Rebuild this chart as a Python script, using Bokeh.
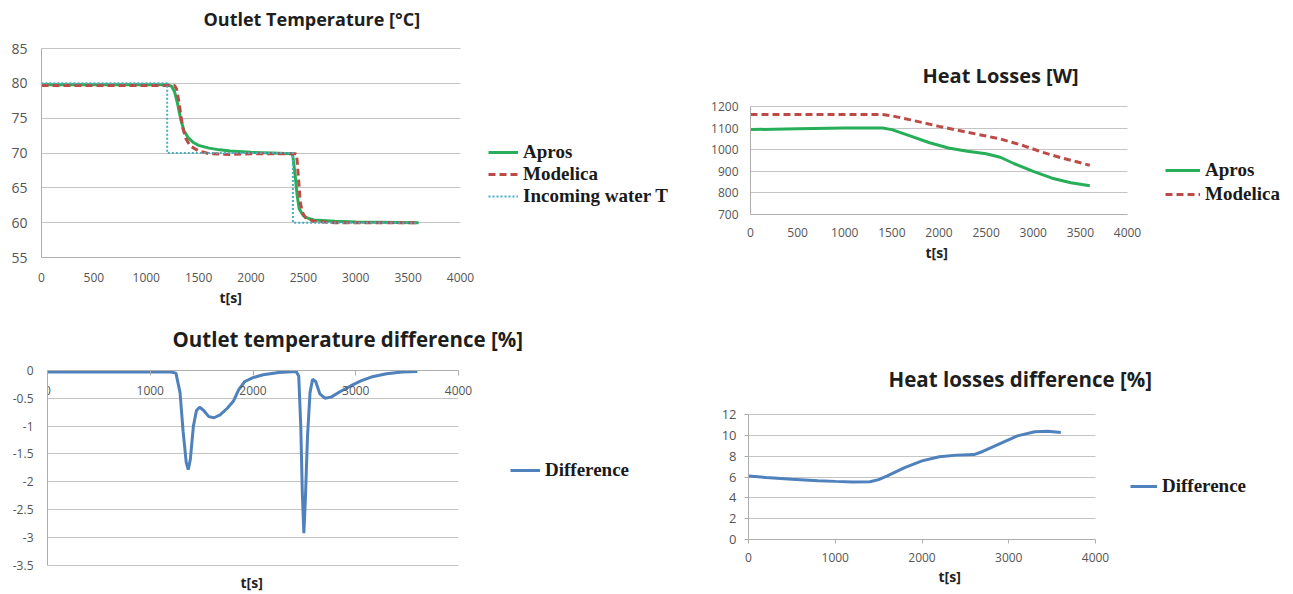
from bokeh.plotting import figure
from bokeh.models import (Range1d, Legend, LegendItem, Title, FixedTicker, Grid)
from bokeh.layouts import column, row
from bokeh.embed import file_html
from bokeh.resources import INLINE

# ---------------- data ----------------
# Panel 1: outlet temperature
t_apros_T = [0, 1200, 1240, 1270, 1300, 1330, 1360, 1400, 1450, 1500, 1600, 1700, 1800, 2000, 2200,
             2390, 2400, 2420, 2440, 2460, 2500, 2550, 2600, 2800, 3000, 3600]
apros_T = [79.8, 79.8, 79.6, 78.8, 77.0, 74.8, 73.2, 72.2, 71.5, 71.1, 70.7, 70.45, 70.3, 70.1, 70.0,
           69.9, 69.5, 67.0, 64.0, 62.0, 61.0, 60.6, 60.4, 60.2, 60.1, 60.0]
t_mod_T = [0, 1270, 1290, 1310, 1330, 1350, 1380, 1420, 1500, 1600, 1800, 2000, 2200, 2430, 2440,
           2455, 2470, 2490, 2520, 2600, 2800, 3600]
mod_T = [79.7, 79.7, 79.2, 77.5, 75.5, 73.5, 72.0, 71.0, 70.3, 69.9, 69.8, 69.9, 69.9, 69.9, 69.0,
         66.0, 63.0, 61.5, 60.7, 60.2, 60.0, 60.0]
t_in_T = [0, 1200, 1200, 2400, 2400, 3600]
in_T = [80, 80, 70, 70, 60, 60]

# Panel 2: heat losses
t_apros_Q = [0, 500, 1000, 1400, 1500, 1700, 1900, 2100, 2300, 2500, 2650, 2800, 3000, 3200, 3400, 3600]
apros_Q = [1093, 1097, 1100, 1100, 1093, 1063, 1032, 1008, 993, 981, 965, 935, 900, 868, 847, 833]
t_mod_Q = [0, 1400, 1500, 1700, 2000, 2200, 2500, 2650, 2900, 3100, 3300, 3600]
mod_Q = [1163, 1163, 1157, 1138, 1108, 1090, 1063, 1050, 1018, 988, 962, 928]

# Panel 3: outlet temperature difference [%]
t_dT = [0, 1200, 1250, 1290, 1320, 1350, 1370, 1390, 1420, 1450, 1480, 1520, 1570, 1620, 1680, 1750,
        1810, 1860, 1920, 2000, 2100, 2250, 2420, 2445, 2465, 2480, 2495, 2510, 2530, 2555, 2580,
        2610, 2650, 2700, 2760, 2850, 2950, 3050, 3150, 3300, 3450, 3600]
dT = [-0.03, -0.03, -0.05, -0.4, -1.1, -1.65, -1.78, -1.6, -1.0, -0.72, -0.66, -0.72, -0.83, -0.85,
      -0.8, -0.68, -0.55, -0.35, -0.2, -0.13, -0.08, -0.04, -0.02, -0.1, -1.0, -2.2, -2.92, -2.3,
      -1.2, -0.4, -0.16, -0.2, -0.42, -0.5, -0.48, -0.38, -0.28, -0.19, -0.12, -0.06, -0.03, -0.02]

# Panel 4: heat losses difference [%]
t_dQ = [0, 200, 500, 800, 1000, 1200, 1400, 1500, 1600, 1800, 2000, 2200, 2400, 2600, 2700, 2900,
        3100, 3300, 3450, 3600]
dQ = [6.1, 5.95, 5.78, 5.65, 5.58, 5.52, 5.55, 5.75, 6.1, 6.9, 7.55, 7.95, 8.1, 8.15, 8.45, 9.2,
      9.95, 10.35, 10.4, 10.28]

# tick values / labels
p1_xticks = [0, 500, 1000, 1500, 2000, 2500, 3000, 3500, 4000]
p1_yticks = [55, 60, 65, 70, 75, 80, 85]
p2_xticks = [0, 500, 1000, 1500, 2000, 2500, 3000, 3500, 4000]
p2_yticks = [700, 800, 900, 1000, 1100, 1200]
p3_xticks = [0, 1000, 2000, 3000, 4000]
p3_yticks = [0, -0.5, -1, -1.5, -2, -2.5, -3, -3.5]
p3_ylabels = ["0", "-0.5", "-1", "-1.5", "-2", "-2.5", "-3", "-3.5"]
p4_xticks = [0, 1000, 2000, 3000, 4000]
p4_yticks = [0, 2, 4, 6, 8, 10, 12]

titles = ["Outlet Temperature  [\u00b0C]", "Heat Losses [W]",
          "Outlet temperature difference [%]", "Heat losses difference [%]"]
x_label = "t[s]"

# ---------------- style ----------------
GREEN = "#26AE58"
RED = "#BC4B48"
CYAN = "#4BACC6"
BLUE = "#4F81BD"
GRID = "#C4C4C4"
AXIS = "#ADADAD"
TICKC = "#555555"
TFONT = "Open Sans"
SFONT = "Open Sans"
LFONT = "Liberation Serif"
HAS_CROSS = "cross_bounds" in Grid.properties()


def panel(w, h, xdata, ydata, frame_px, data_px):
    """frame_px = (left, right, top, bottom) of the frame inside the figure,
    data_px = (x0, x1, ytop, ybottom) pixel positions of the data extents."""
    fl, fr, ft, fb = frame_px
    x0p, x1p, ytp, ybp = data_px
    xs = (xdata[1] - xdata[0]) / (x1p - x0p)
    ys = (ydata[1] - ydata[0]) / (ybp - ytp)
    xr = Range1d(xdata[0] - (x0p - fl) * xs, xdata[1] + (fr - x1p) * xs)
    yr = Range1d(ydata[0] - (fb - ybp) * ys, ydata[1] + (ytp - ft) * ys)
    p = figure(width=w, height=h, x_range=xr, y_range=yr,
               output_backend="svg", toolbar_location=None,
               min_border_left=fl, min_border_right=w - fr, min_border_top=ft,
               min_border_bottom=h - fb)
    p.outline_line_color = None
    p.xgrid.grid_line_color = None
    p.ygrid.grid_line_color = GRID
    if HAS_CROSS:
        p.ygrid.cross_bounds = tuple(xdata)
    p.background_fill_color = "white"
    p.border_fill_color = "white"
    p.xaxis.bounds = tuple(xdata)
    p.yaxis.bounds = tuple(ydata)
    for ax in p.axis:
        ax.axis_line_color = AXIS
        ax.major_tick_line_color = None
        ax.minor_tick_line_color = None
        ax.major_label_text_color = TICKC
        ax.major_label_text_font = SFONT
    return p


def add_title(p, text, offset, size):
    p.add_layout(Title(text=text, align="left", offset=offset, text_font=TFONT,
                       text_font_style="bold", text_font_size=size, text_color="#1E1E1E",
                       standoff=4), "above")


def add_xlabel(p, offset, standoff):
    p.add_layout(Title(text=x_label, align="left", offset=offset, text_font=TFONT,
                       text_font_style="bold", text_font_size="14px", text_color="#222222",
                       standoff=standoff), "below")


def add_legend(p, items, loc, gw, spacing):
    lg = Legend(items=items, location=loc, label_text_font=LFONT, label_text_font_style="bold",
                label_text_font_size="19px", label_text_color="#1A1A1A",
                border_line_color=None, background_fill_alpha=0, padding=0, margin=0,
                spacing=spacing, glyph_width=gw, glyph_height=20, label_height=20,
                label_standoff=5)
    p.add_layout(lg, "center")


# ---------------- panel 1 ----------------
p1 = panel(690, 320, (0, 4000), (55, 85), (41, 690, 32, 257), (41, 460, 48, 257))
p1.xaxis.ticker = FixedTicker(ticks=p1_xticks)
p1.yaxis.ticker = FixedTicker(ticks=p1_yticks)
p1.xaxis.major_label_text_font_size = "12px"
p1.yaxis.major_label_text_font_size = "14px"
p1.xaxis.major_tick_out = 0
p1.yaxis.major_tick_out = 0
p1.xaxis.major_label_standoff = 15
p1.yaxis.major_label_standoff = 14
add_title(p1, titles[0], 162, "18px")
add_xlabel(p1, 178, 2)
r_ap = p1.line(t_apros_T, apros_T, line_color=GREEN, line_width=3)
r_mo = p1.line(t_mod_T, mod_T, line_color=RED, line_width=3, line_dash="7 4")
r_in = p1.line(t_in_T, in_T, line_color=CYAN, line_width=2, line_dash="2 2")
add_legend(p1, [LegendItem(label="Apros", renderers=[r_ap]),
                LegendItem(label="Modelica", renderers=[r_mo]),
                LegendItem(label="Incoming water T", renderers=[r_in])], (447, 50), 30, 0)

# ---------------- panel 2 ----------------
p2 = panel(600, 320, (0, 4000), (700, 1200), (60, 600, 90, 214), (60, 437, 106, 214))
p2.xaxis.ticker = FixedTicker(ticks=p2_xticks)
p2.yaxis.ticker = FixedTicker(ticks=p2_yticks)
p2.xaxis.major_label_text_font_size = "12px"
p2.yaxis.major_label_text_font_size = "12px"
p2.xaxis.major_tick_out = 0
p2.yaxis.major_tick_out = 0
p2.xaxis.major_label_standoff = 13
p2.yaxis.major_label_standoff = 12
add_title(p2, titles[1], 172, "20px")
add_xlabel(p2, 175, 2)
r2a = p2.line(t_apros_Q, apros_Q, line_color=GREEN, line_width=3)
r2m = p2.line(t_mod_Q, mod_Q, line_color=RED, line_width=3, line_dash="7 4")
add_legend(p2, [LegendItem(label="Apros", renderers=[r2a]),
                LegendItem(label="Modelica", renderers=[r2m])], (415, 9), 35, 2)

# ---------------- panel 3 ----------------
p3 = panel(690, 274, (0, 4000), (-3.5, 0), (47, 690, 34, 249), (47, 458, 50, 247))
p3.xaxis.ticker = FixedTicker(ticks=p3_xticks)
p3.yaxis.ticker = FixedTicker(ticks=p3_yticks)
p3.yaxis.major_label_overrides = {v: s for v, s in zip(p3_yticks, p3_ylabels)}
p3.xaxis.fixed_location = 0
p3.xaxis.major_label_text_font_size = "12px"
p3.yaxis.major_label_text_font_size = "12px"
p3.xaxis.major_tick_line_color = AXIS
p3.xaxis.major_tick_out = 5
p3.xaxis.major_tick_in = 0
p3.xaxis.major_label_standoff = 11
p3.yaxis.major_tick_out = 0
p3.yaxis.major_label_standoff = 14
add_title(p3, titles[2], 125, "20.5px")
add_xlabel(p3, 193, 6)
r3 = p3.line(t_dT, dT, line_color=BLUE, line_width=3)
add_legend(p3, [LegendItem(label="Difference", renderers=[r3])], (463, 86), 30, 0)

# ---------------- panel 4 ----------------
p4 = panel(600, 272, (0, 4000), (0, 12), (58, 600, 74, 219), (58, 405, 94, 219))
p4.xaxis.ticker = FixedTicker(ticks=p4_xticks)
p4.yaxis.ticker = FixedTicker(ticks=p4_yticks)
p4.xaxis.major_label_text_font_size = "12px"
p4.yaxis.major_label_text_font_size = "13px"
for ax in (p4.xaxis, p4.yaxis):
    ax.major_tick_line_color = AXIS
    ax.major_tick_out = 4
    ax.major_tick_in = 0
p4.xaxis.major_label_standoff = 9
p4.yaxis.major_label_standoff = 8
add_title(p4, titles[3], 140, "20.5px")
add_xlabel(p4, 190, 0)
r4 = p4.line(t_dQ, dQ, line_color=BLUE, line_width=3)
add_legend(p4, [LegendItem(label="Difference", renderers=[r4])], (382, 42), 27, 0)

layout = column(row(p1, column(p2)), row(p3, column(p4)))
open("out.html", "w").write(file_html(layout, INLINE))
